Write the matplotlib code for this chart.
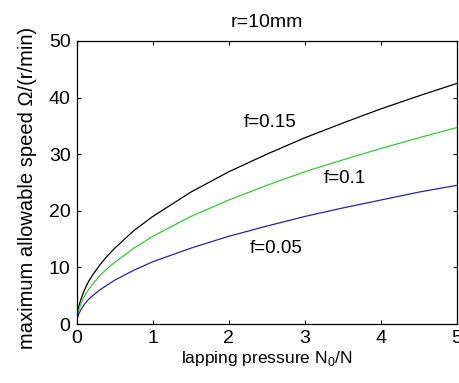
import matplotlib
matplotlib.use("Agg")
import matplotlib.pyplot as plt

# values
pressure = [0.01, 0.03, 0.05, 0.1, 0.15, 0.2, 0.3, 0.4, 0.5, 0.75, 1.0,
            1.5, 2.0, 2.5, 3.0, 3.5, 4.0, 4.5, 5.0]
speed_f015 = [1.9, 3.3, 4.2, 6.0, 7.4, 8.5, 10.4, 12.0, 13.4, 16.5, 19.0,
              23.3, 26.9, 30.0, 32.9, 35.5, 38.0, 40.3, 42.5]
speed_f010 = [1.55, 2.7, 3.4, 4.9, 6.0, 6.9, 8.5, 9.8, 10.9, 13.4, 15.5,
              19.0, 21.9, 24.5, 26.9, 29.0, 31.0, 32.9, 34.7]
speed_f005 = [1.1, 1.9, 2.45, 3.5, 4.3, 4.9, 6.0, 6.9, 7.75, 9.5, 11.0,
              13.4, 15.5, 17.3, 19.0, 20.5, 21.9, 23.3, 24.5]

plt.rcParams["font.family"] = ["Liberation Sans", "DejaVu Sans"]
plt.rcParams["mathtext.fontset"] = "custom"
plt.rcParams["mathtext.rm"] = "Liberation Sans"

fig = plt.figure(figsize=(4.6, 3.83), dpi=100)
ax = fig.add_axes([0.167, 0.154, 0.826, 0.739])

ax.plot(pressure, speed_f015, color="black", lw=0.9)
ax.plot(pressure, speed_f010, color="#33cc33", lw=0.9)
ax.plot(pressure, speed_f005, color="#2424aa", lw=0.9)

ax.text(2.2, 34.8, "f=0.15", fontsize=13.5, va="baseline")
ax.text(3.25, 24.9, "f=0.1", fontsize=13.5, va="baseline")
ax.text(2.27, 12.5, "f=0.05", fontsize=13.5, va="baseline")

ax.set_xlim(0, 5)
ax.set_ylim(0, 50)
ax.set_xticks([0, 1, 2, 3, 4, 5])
ax.set_yticks([0, 10, 20, 30, 40, 50])
ax.tick_params(direction="in", length=3, top=True, right=True, labelsize=14, pad=4.5)
for s in ax.spines.values():
    s.set_linewidth(0.9)

ax.set_title("r=10mm", fontsize=14, pad=10)
ax.set_xlabel("lapping pressure N$_0$/N", fontsize=12.5, labelpad=1)
ax.set_ylabel("maximum allowable speed \u03a9/(r/min)", fontsize=14.5)
ax.yaxis.set_label_coords(-0.105, 0.482)

fig.savefig("out.png", dpi=100)
